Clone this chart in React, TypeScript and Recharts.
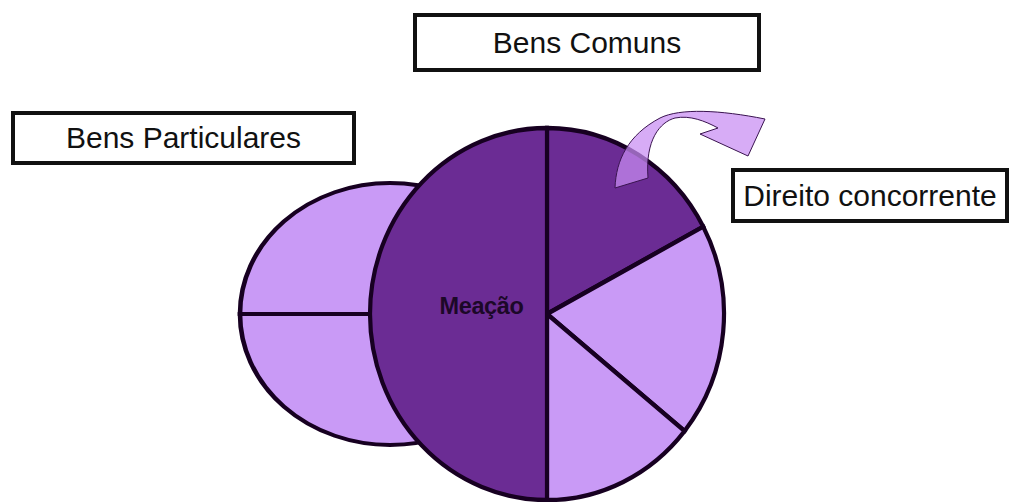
import React from 'react';
import { PieChart, Pie, Cell } from 'recharts';

// main circle: left half is the meação, right half split in three
const mainNames = ['Direito concorrente', 'Herdeiro 1', 'Herdeiro 2', 'Meação'];
const mainValues = [62, 67, 51, 180];
const mainColors = ['#6b2c94', '#c99af6', '#c99af6', '#6b2c94'];

// back ellipse: bens particulares, two equal halves
const partNames = ['Particular 1', 'Particular 2'];
const partValues = [50, 50];
const partColors = ['#c99af6', '#c99af6'];

const boxLabels = ['Bens Comuns', 'Bens Particulares', 'Direito concorrente'];

const W = 1011;
const H = 502;
const OUTLINE = '#170021';

const mainData = mainNames.map((name, i) => ({ name, value: mainValues[i] }));
const partData = partNames.map((name, i) => ({ name, value: partValues[i] }));

const renderMeacao = (props: any) => {
  if (props.name !== 'Meação') return null;
  const rad = (Math.PI / 180) * props.midAngle;
  const r = props.outerRadius * 0.37;
  const x = props.cx + r * Math.cos(rad);
  const y = props.cy - r * Math.sin(rad) - 8;
  return (
    <text
      x={x}
      y={y}
      textAnchor="middle"
      dominantBaseline="central"
      fill="#1c0828"
      fontFamily="'Liberation Sans', Arial, sans-serif"
      fontWeight="bold"
      fontSize={23.5}
      letterSpacing={-0.4}
    >
      {props.name}
    </text>
  );
};

const boxStyle = (left: number, top: number, width: number, height: number): React.CSSProperties => ({
  position: 'absolute',
  left,
  top,
  width,
  height,
  boxSizing: 'border-box',
  border: '4px solid #111',
  background: '#fff',
  display: 'flex',
  alignItems: 'center',
  justifyContent: 'center',
  fontSize: 30,
  color: '#111',
  whiteSpace: 'nowrap',
});

export default function App() {
  return (
    <div
      style={{
        position: 'relative',
        width: W,
        height: H,
        overflow: 'hidden',
        background: '#fff',
        fontFamily: "'Liberation Sans', Arial, sans-serif",
      }}
    >
      <style>{'body{margin:0}'}</style>

      {/* back ellipse (squashed vertically) */}
      <div
        style={{
          position: 'absolute',
          left: 0,
          top: 0,
          transform: 'scaleY(0.873)',
          transformOrigin: '390px 314px',
        }}
      >
        <PieChart width={W} height={H} margin={{ top: 0, right: 0, bottom: 0, left: 0 }}>
          <Pie
            data={partData}
            dataKey="value"
            nameKey="name"
            cx={390}
            cy={314}
            outerRadius={150}
            startAngle={0}
            endAngle={360}
            stroke={OUTLINE}
            strokeWidth={4.6}
            isAnimationActive={false}
          >
            {partData.map((d, i) => (
              <Cell key={d.name} fill={partColors[i]} />
            ))}
          </Pie>
        </PieChart>
      </div>

      {/* main circle (slightly stretched vertically) */}
      <div
        style={{
          position: 'absolute',
          left: 0,
          top: 0,
          transform: 'scaleY(1.051)',
          transformOrigin: '547px 314px',
        }}
      >
        <PieChart width={W} height={H} margin={{ top: 0, right: 0, bottom: 0, left: 0 }}>
          <Pie
            data={mainData}
            dataKey="value"
            nameKey="name"
            cx={547}
            cy={314}
            outerRadius={177}
            startAngle={90}
            endAngle={-270}
            stroke={OUTLINE}
            strokeWidth={4.2}
            label={renderMeacao}
            labelLine={false}
            isAnimationActive={false}
          >
            {mainData.map((d, i) => (
              <Cell key={d.name} fill={mainColors[i]} />
            ))}
          </Pie>
        </PieChart>
      </div>

      {/* curved arrow */}
      <svg
        width={W}
        height={H}
        style={{ position: 'absolute', left: 0, top: 0, pointerEvents: 'none' }}
      >
        <path
          d="M 615 188 C 616 160, 628 135, 660 118 C 680 108, 720 110, 765 119 L 748 156 L 700 134 L 718 128 C 705 121, 690 115, 675 118 C 660 122, 645 140, 648 178 Z"
          fill="#c88cf2"
          fillOpacity={0.72}
          stroke="#3a1450"
          strokeWidth={1}
        />
      </svg>

      <div style={boxStyle(413, 13, 348, 59)}>{boxLabels[0]}</div>
      <div style={boxStyle(11, 111, 345, 54)}>{boxLabels[1]}</div>
      <div style={boxStyle(731, 168, 278, 55)}>{boxLabels[2]}</div>
    </div>
  );
}
